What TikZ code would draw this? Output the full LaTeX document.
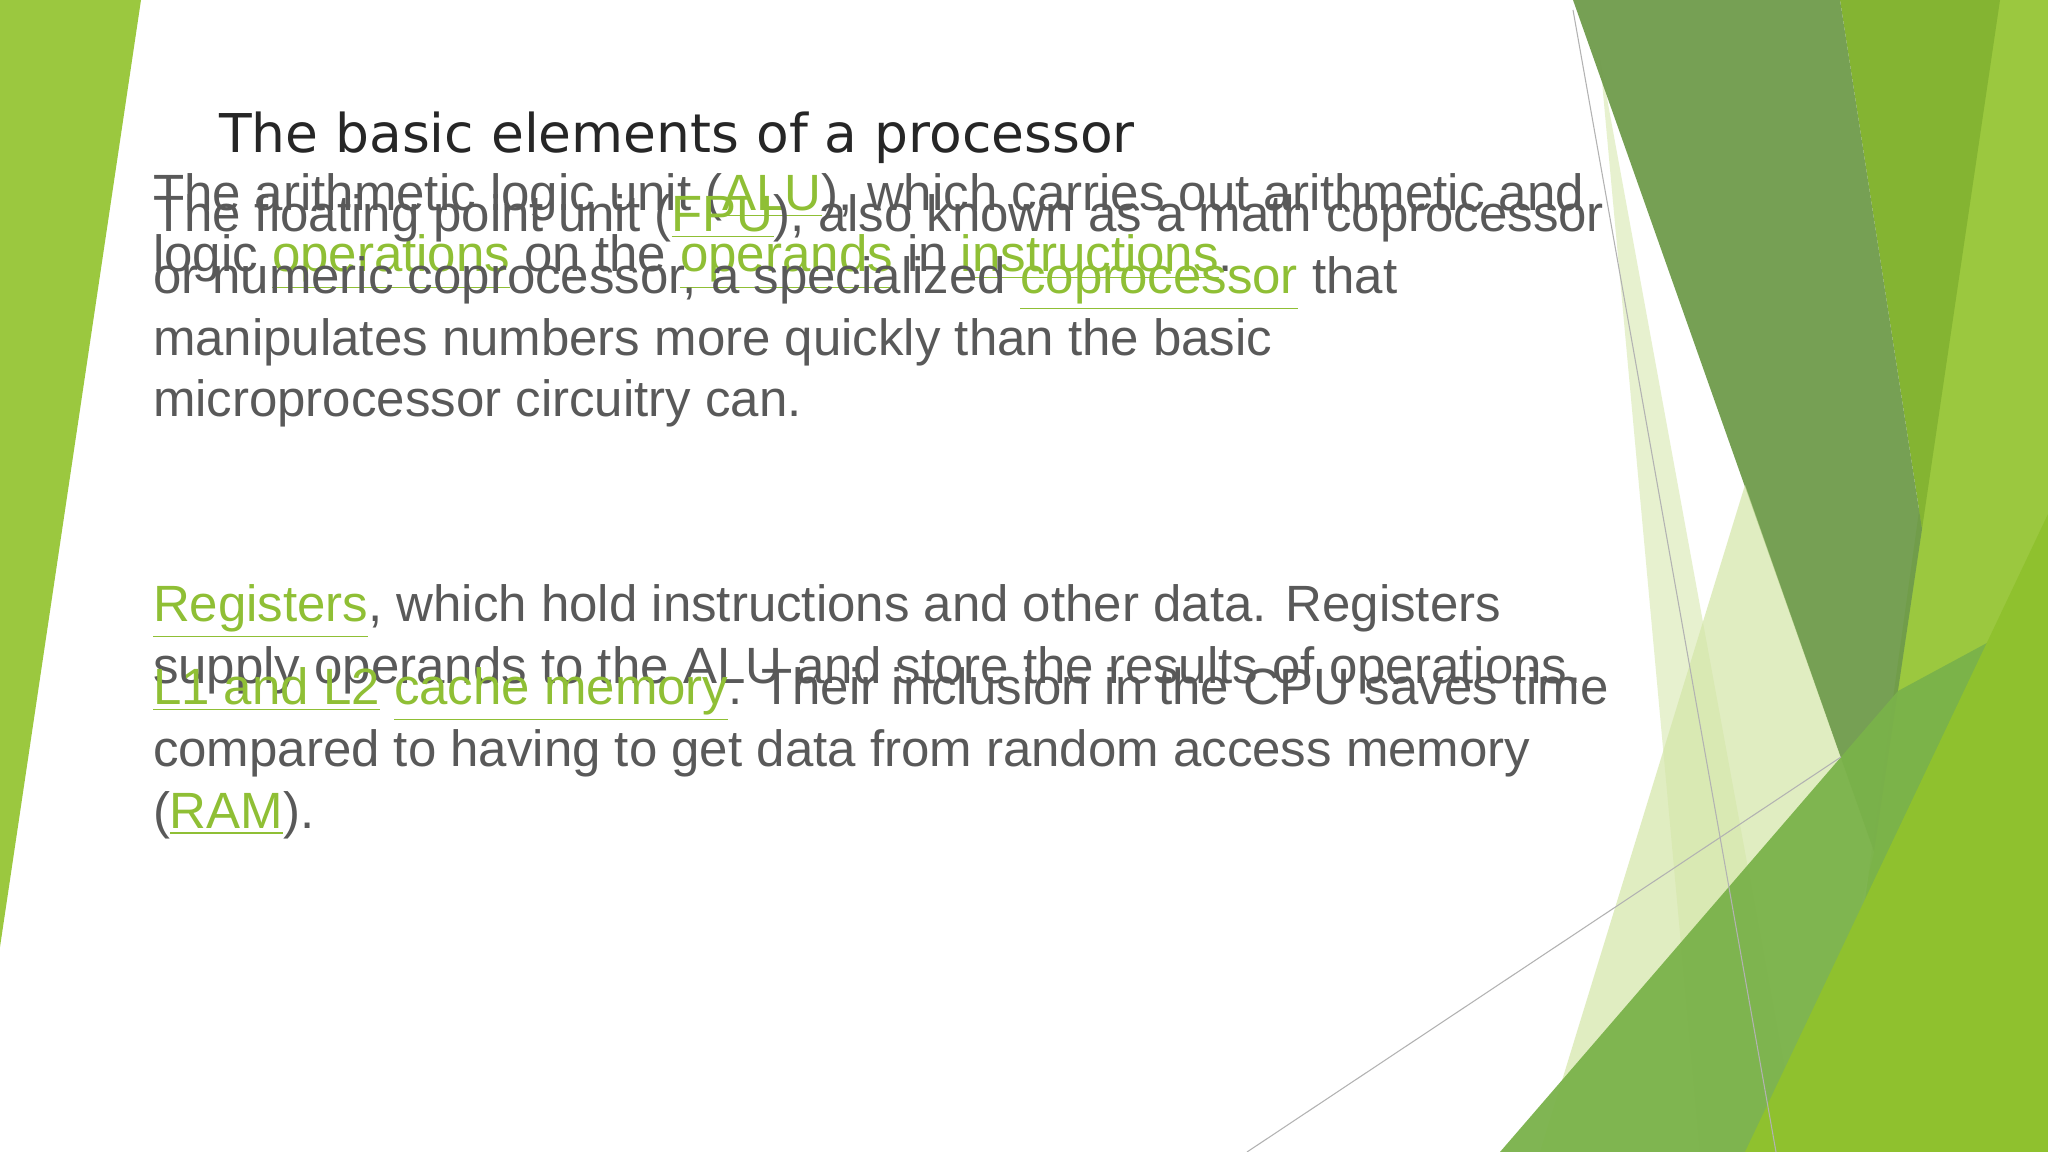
\documentclass[tikz,border=0pt]{standalone}
\usepackage{fontspec}
\setmainfont{Liberation Sans}
\newfontfamily\titlefont{DejaVu Sans}
\definecolor{lime}{HTML}{9BC83F}
\definecolor{darkgrn}{HTML}{6F9B4B}
\definecolor{midgrn}{HTML}{84B432}
\definecolor{bandgrn}{HTML}{7AB24A}
\definecolor{brightgrn}{HTML}{8FC12E}
\definecolor{palegrn}{HTML}{D4E6A8}
\definecolor{linkgrn}{HTML}{8FBF35}
\definecolor{bodygray}{HTML}{595959}
\newcommand{\lnk}[1]{\textcolor{linkgrn}{$\underline{\hbox{#1}}$}}
\begin{document}
\begin{tikzpicture}[
        x=0.01cm, y=-0.01cm,
        every node/.style = {inner sep=0pt, outer sep=0pt},
        bodytext/.style = {anchor=base west, align=left, text=bodygray,
            font=\fontsize{14.5}{17.6}\selectfont},
        thinline/.style = {draw=gray!60, line width=0.3pt}
    ]
    \useasboundingbox (0,0) rectangle (2048,1152);
    \fill[white] (0,0) rectangle (2048,1152);

    % LEFT STRIP
    \fill[lime] (0,0) -- (141,0) -- (0,947) -- cycle;

    % RIGHT SHAPES
    \fill[lime] (1990,0) -- (2048,0) -- (2048,1152) -- (1830,1152) -- cycle;
    \fill[midgrn] (1840,0) -- (2000,0) -- (1922,529) -- cycle;
    \fill[palegrn, opacity=0.55] (1600,60) -- (1800,1152) -- (1700,1152) -- cycle;
    \fill[darkgrn, opacity=0.95] (1573,0) -- (1840,0) -- (1922,529) -- (1874,852) -- cycle;
    \fill[palegrn, opacity=0.7] (1540,1152) -- (1745,485) -- (1874,852) -- (1800,1152) -- cycle;
    \fill[bandgrn, opacity=0.95] (1500,1152) -- (1898,691) -- (2048,610) -- (2048,1152) -- cycle;
    \fill[brightgrn] (1745,1152) -- (2048,514) -- (2048,1152) -- cycle;
    \draw[thinline] (1573,10) -- (1776,1152);
    \draw[thinline] (1247,1152) -- (1841,757);

    % TITLE
    \node[anchor=base west, text=black!85, font=\titlefont\fontsize{15.2}{18}\selectfont]
        (title) at (219,153) {The basic elements of a processor};

    % BODY
    \node[bodytext] (alu) at (153,272)
        {The arithmetic logic unit (\lnk{ALU}), which carries out arithmetic and\\
         logic \lnk{operations} on the \lnk{operands} in \lnk{instructions}.};
    \node[bodytext] (fpu) at (153,417)
        {The floating point unit (\lnk{FPU}), also known as a math coprocessor\\
         or numeric coprocessor, a specialized \lnk{coprocessor} that\\
         manipulates numbers more quickly than the basic\\
         microprocessor circuitry can.};
    \node[bodytext] (regs) at (153,683)
        {\lnk{Registers}, which hold instructions and other data. Registers\\
         supply operands to the ALU and store the results of operations.};
    \node[bodytext] (cache) at (153,828)
        {\lnk{L1 and L2} \lnk{cache memory}. Their inclusion in the CPU saves time\\
         compared to having to get data from random access memory\\
         (\lnk{RAM}).};
\end{tikzpicture}
\end{document}
